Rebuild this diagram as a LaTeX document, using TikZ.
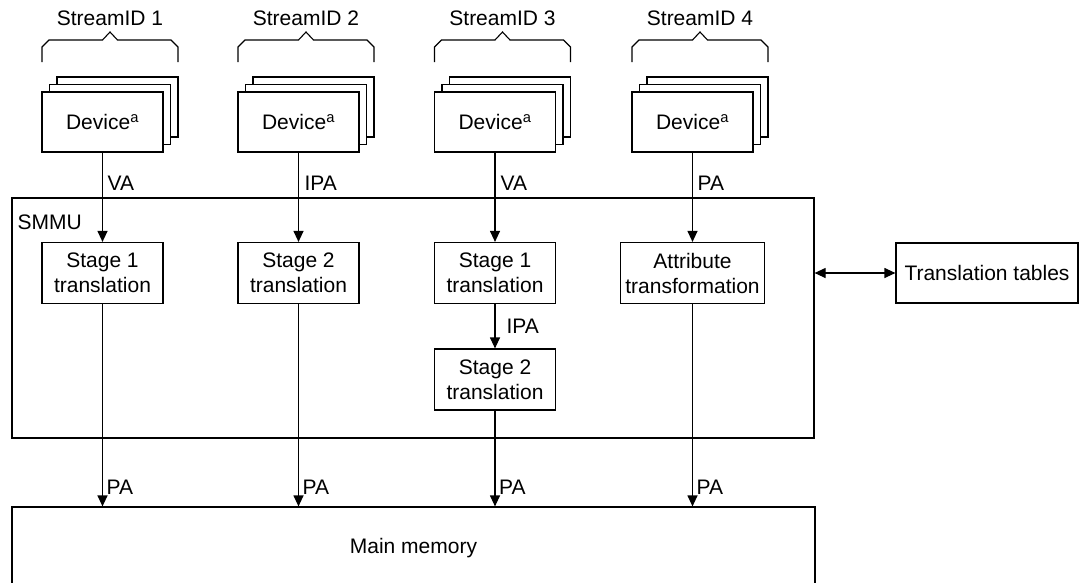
\documentclass[tikz,border=0pt]{standalone}
\usepackage{fontspec}
\setmainfont{Liberation Sans}
\usetikzlibrary{arrows.meta}
\begin{document}
\begin{tikzpicture}[x=1pt,y=-1pt,
  font=\fontsize{21}{25}\selectfont,
  line width=1.2pt,
  box/.style={draw, inner sep=0pt, align=center, minimum width=121pt, minimum height=61pt, fill=white},
  lbl/.style={inner sep=0pt, anchor=west},
  arr/.style={-{Triangle[length=11pt,width=10pt]}},
  darr/.style={{Triangle[length=11pt,width=10pt]}-{Triangle[length=11pt,width=10pt]}},
  brace/.style={line width=1.1pt}]
\useasboundingbox (0,0) rectangle (1081,582);
\clip (0,0) rectangle (1081,582);

% device stacks and braces
\foreach \i/\cx in {1/102.5, 2/298.5, 3/495, 4/692.5} {
  \node[box, minimum height=60pt] (devc\i) at ({\cx+15},107) {};
  \node[box, minimum height=60pt] (devb\i) at ({\cx+7.5},114.5) {};
  \node[box, minimum height=60pt] (dev\i) at (\cx,122) {Device\textsuperscript{a}};
  \draw[brace] ({\cx-60.5},62) -- ({\cx-60.5},47) -- ({\cx-53.5},40) -- ({\cx},40)
    -- ({\cx+7.5},32) -- ({\cx+15},40) -- ({\cx+68.5},40) -- ({\cx+75.5},47) -- ({\cx+75.5},62);
  \node (sid\i) at ({\cx+7.5},18) {StreamID \i};
}

% SMMU
\node[draw, inner sep=0pt, minimum width=802pt, minimum height=240pt] (smmu) at (413,318) {};
\node[lbl] (smmulbl) at (17,222) {SMMU};

% translation units
\node[box] (s1) at (102.5,273) {Stage 1\\translation};
\node[box] (s2) at (298.5,273) {Stage 2\\translation};
\node[box] (s3) at (495,273) {Stage 1\\translation};
\node[box] (s3b) at (495,379.5) {Stage 2\\translation};
\node[box, minimum width=144pt] (at) at (692.5,273) {Attribute\\transformation};

% translation tables
\node[box, minimum width=182pt, minimum height=60pt] (tt) at (987,273) {Translation tables};
\draw[darr] (smmu.east |- tt.west) -- (tt.west);

% main memory
\node[draw, inner sep=0pt, minimum width=803pt, minimum height=82pt] (mm) at (413.5,548) {Main memory};

% device -> SMMU arrows
\draw[arr] (dev1.south) -- (s1.north);
\draw[arr] (dev2.south) -- (s2.north);
\draw[arr] (dev3.south) -- (s3.north);
\draw[arr] (dev4.south) -- (at.north);
\node[lbl] (va1) at (107,183) {VA};
\node[lbl] (ipa2) at (304,183) {IPA};
\node[lbl] (va3) at (500,183) {VA};
\node[lbl] (pa4) at (697,183) {PA};

\draw[arr] (s3.south) -- (s3b.north);
\node[lbl] (ipa3) at (506,326) {IPA};

% SMMU -> memory arrows
\draw[arr] (s1.south) -- (s1.south |- mm.north);
\draw[arr] (s2.south) -- (s2.south |- mm.north);
\draw[arr] (s3b.south) -- (s3b.south |- mm.north);
\draw[arr] (at.south) -- (at.south |- mm.north);
\node[lbl] (pa1) at (106,487) {PA};
\node[lbl] (pa2) at (302,487) {PA};
\node[lbl] (pa3) at (498.5,487) {PA};
\node[lbl] (pa5) at (696,487) {PA};
\end{tikzpicture}
\end{document}
